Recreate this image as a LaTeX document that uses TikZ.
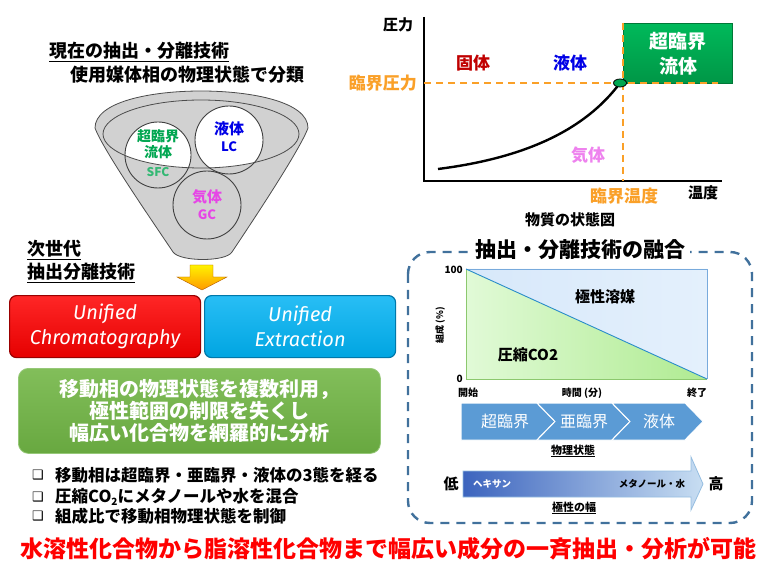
\documentclass[tikz,border=0pt]{standalone}
\usepackage{fontspec}
\setmainfont{Noto Sans CJK JP}
\newfontfamily\dejavu{DejaVu Sans}
\newfontfamily\hand{Fira Sans}
\usetikzlibrary{shapes.geometric}
\definecolor{orC}{RGB}{250,160,40}
\definecolor{scfG}{RGB}{0,166,80}
\definecolor{lcB}{RGB}{0,0,230}
\definecolor{gcM}{RGB}{230,70,230}
\definecolor{solR}{RGB}{192,0,0}
\definecolor{gasV}{RGB}{238,130,238}
\definecolor{panelB}{RGB}{65,113,156}
\definecolor{chevB}{RGB}{91,155,213}
\definecolor{ueTop}{RGB}{40,190,245}
\definecolor{ueBot}{RGB}{0,165,225}
\definecolor{ueDraw}{RGB}{0,120,170}
\definecolor{gbTop}{RGB}{130,190,90}
\definecolor{gbBot}{RGB}{104,168,64}
\definecolor{gbDraw}{RGB}{150,200,120}
\definecolor{scfTop}{RGB}{0,185,90}
\definecolor{scfBot}{RGB}{0,150,70}
\definecolor{scfDraw}{RGB}{0,120,55}
\definecolor{grL}{RGB}{225,250,215}
\definecolor{grR}{RGB}{175,235,145}
\definecolor{blL}{RGB}{215,232,250}
\definecolor{blM}{RGB}{183,216,247}
\definecolor{blR}{RGB}{228,240,252}
\definecolor{grEdge}{RGB}{140,200,110}
\definecolor{blEdge}{RGB}{120,170,220}
\definecolor{diagC}{RGB}{40,140,200}
\definecolor{arL}{RGB}{60,100,190}
\definecolor{arR}{RGB}{200,222,242}
\definecolor{arEdge}{RGB}{150,190,225}
\newcommand\fsz[2]{\fontsize{#1}{#2}\selectfont}
\tikzset{
  txt/.style={inner sep=0pt, align=center},
  funnelline/.style={draw=black!70, line width=0.8pt},
  circ/.style={draw=black!75, line width=0.9pt},
  orlbl/.style={txt, text=orC, font=\fsz{17}{20}\bfseries},
  chevtext/.style={txt, text=white, font=\fsz{16}{19}},
  chev/.style={fill=chevB, draw=white, line width=1pt},
  bigbox/.style={rounded corners=7pt, line width=1.2pt, minimum width=191pt, minimum height=62pt, anchor=north west, text=white, align=center, font=\hand\itshape\fsz{20}{25}},
  bullet/.style={anchor=west, inner sep=0pt, font=\fsz{16.5}{19}\bfseries},
  bmark/.style={txt, font=\dejavu\bfseries\fsz{13}{15}}
}
\begin{document}
\begin{tikzpicture}[x=1pt,y=-1pt]
\useasboundingbox (0,0) rectangle (760,561);
\fill[white] (0,0) rectangle (760,561);

% ---------- top-left titles ----------
\node[txt, font=\fsz{18}{21}\bfseries] (t1) at (139,52) {\underline{現在の抽出・分離技術}};
\node[txt, font=\fsz{18}{21}\bfseries] (t2) at (187,75) {使用媒体相の物理状態で分類};

% ---------- funnel ----------
\draw[funnelline, fill=black!18] (95,128) .. controls (95,102) and (150,91) .. (201,91)
  .. controls (252,91) and (308,102) .. (308,128)
  .. controls (300,150) and (250,225) .. (232,252)
  .. controls (226,262) and (180,262) .. (173,252)
  .. controls (155,225) and (103,150) .. (95,128) -- cycle;
\begin{scope}
  \clip (201,134) ellipse [x radius=98, y radius=34];
  \fill[white] (158,155) circle[radius=33];
  \fill[white] (229,140) circle[radius=34];
\end{scope}
\draw[funnelline] (201,134) ellipse [x radius=98, y radius=34];
\draw[circ] (158,155) circle[radius=33];
\draw[circ] (229,140) circle[radius=34];
\draw[circ] (207,205) circle[radius=34];
\node[txt, text=scfG, font=\fsz{14}{16}\bfseries] (sfc1) at (158,144) {超臨界\\流体};
\node[txt, text=scfG!80, font=\fsz{12}{14}\bfseries] (sfc2) at (158,172) {SFC};
\node[txt, text=lcB, font=\fsz{15}{17}\bfseries] (lc1) at (229,129) {液体};
\node[txt, text=lcB, font=\fsz{13}{15}\bfseries] (lc2) at (229,147) {LC};
\node[txt, text=gcM, font=\fsz{15}{17}\bfseries] (gc1) at (207,197) {気体};
\node[txt, text=gcM, font=\fsz{13}{15}\bfseries] (gc2) at (207,215) {GC};

% ---------- next generation ----------
\node[txt, anchor=west, font=\fsz{18}{21}\bfseries] (n1) at (27,250) {\underline{次世代}};
\node[txt, anchor=west, font=\fsz{18}{21}\bfseries] (n2) at (27,273) {\underline{抽出分離技術}};
\shade[top color=yellow!90!orange, bottom color=orange!80!yellow, draw=orange!70!black, line width=0.4pt]
  (190,265) -- (213,265) -- (213,277) -- (227,277) -- (202,290) -- (177,277) -- (190,277) -- cycle;

\node[bigbox, top color=red!85!white, bottom color=red!90!black, draw=red!60!black] (uc) at (9,295) {Unified\\Chromatography};
\node[bigbox, top color=ueTop, bottom color=ueBot, draw=ueDraw] (ue) at (204,295) {Unified\\Extraction};

\node[rounded corners=10pt, minimum width=362pt, minimum height=85pt, anchor=north west,
  top color=gbTop, bottom color=gbBot, draw=gbDraw, line width=0.8pt,
  text=white, align=center, font=\fsz{20}{22}\bfseries] (gb) at (18,368)
  {移動相の物理状態を複数利用，\\極性範囲の制限を失くし\\幅広い化合物を網羅的に分析};

\node[bmark] (b1m) at (38,475) {❑};
\node[bmark] (b2m) at (38,497) {❑};
\node[bmark] (b3m) at (38,516) {❑};
\node[bullet] (b1) at (55,475) {移動相は超臨界・亜臨界・液体の3態を経る};
\node[bullet] (b2) at (55,497) {圧縮CO\raisebox{-0.35ex}{\fsz{10}{12}2}にメタノールや水を混合};
\node[bullet] (b3) at (55,516) {組成比で移動相物理状態を制御};

\node[txt, text=red, font=\fsz{23}{26}\bfseries] (bottom) at (388,549) {水溶性化合物から脂溶性化合物まで幅広い成分の一斉抽出・分析が可能};

% ---------- phase diagram ----------
\coordinate (ytop) at (424,17);
\coordinate (org) at (424,181);
\coordinate (xend) at (722,181);
\draw[line width=2.6pt] (ytop) -- (org) -- (xend);
\node[txt, font=\fsz{15}{17}\bfseries] (p) at (398,25) {圧力};
\node[txt, font=\fsz{15}{17}\bfseries] (tt) at (703,193) {温度};
\node[txt, font=\fsz{15}{17}\bfseries] (cap) at (570,220) {物質の状態図};
\node[anchor=north west, minimum width=109pt, minimum height=60pt, inner sep=0pt,
  top color=scfTop, bottom color=scfBot, draw=scfDraw, line width=1.2pt,
  text=white, align=center, font=\fsz{19}{25}\bfseries] (scf) at (623,23) {超臨界\\流体};
\coordinate (cp) at (620,83);
\coordinate (hl) at (424,83);
\coordinate (hr) at (718,83);
\coordinate (vt) at (623,23);
\coordinate (vb) at (623,181);
\draw[orC, line width=1.6pt, dash pattern=on 7pt off 5pt] (hl) -- (hr);
\draw[orC, line width=1.6pt, dash pattern=on 7pt off 5pt] (vt) -- (vb);
\coordinate (cs) at (438,169);
\draw[line width=2.4pt] (cs) .. controls (525,158) and (585,130) .. (cp);
\node[ellipse, draw=black, fill=scfG, line width=0.8pt, minimum width=13pt, minimum height=8pt, inner sep=0pt] (cpn) at (cp) {};
\node[orlbl, anchor=east] (cpr) at (417,83) {臨界圧力};
\node[orlbl] (ctp) at (624,196) {臨界温度};
\node[txt, text=solR, font=\fsz{17}{20}\bfseries] (sol) at (473,63) {固体};
\node[txt, text=lcB, font=\fsz{17}{20}\bfseries] (liq) at (570,63) {液体};
\node[txt, text=gasV, font=\fsz{17}{20}\bfseries] (gas) at (588,155) {気体};

% ---------- right panel ----------
\draw[panelB, line width=2.4pt, dash pattern=on 9pt off 7pt, rounded corners=22pt] (408,252) rectangle (752,523);
\node[fill=white, inner xsep=5pt, inner ysep=2pt, font=\fsz{21}{24}\bfseries] (ttl) at (580,250) {抽出・分離技術の融合};

\shade[left color=grL, right color=grR] (466,269) -- (466,379) -- (707,379) -- cycle;
\shade[left color=blL, middle color=blM, right color=blR] (466,269) -- (707,269) -- (707,379) -- cycle;
\draw[grEdge, line width=0.8pt] (466,269) -- (466,379) -- (707,379);
\draw[blEdge, line width=0.8pt] (466,269) -- (707,269) -- (707,379);
\draw[diagC, line width=0.9pt] (466,269) -- (707,379);
\node[txt, anchor=east, font=\fsz{10}{12}\bfseries] (y100) at (463,270) {100};
\node[txt, anchor=east, font=\fsz{10}{12}\bfseries] (y0) at (463,379) {0};
\node[txt, rotate=90, font=\fsz{9}{11}\bfseries] (ylab) at (440,325) {組成 (\%)};
\node[txt, font=\fsz{15}{17}\bfseries] (pol) at (605,297) {極性溶媒};
\node[txt, font=\fsz{15}{17}\bfseries] (co2) at (528,355) {圧縮CO2};
\node[txt, font=\fsz{10}{12}\bfseries] (xs) at (468,393) {開始};
\node[txt, font=\fsz{10}{12}\bfseries] (xm) at (582,393) {時間 (分)};
\node[txt, font=\fsz{10}{12}\bfseries] (xe) at (697,393) {終了};

\draw[chev] (461,403) -- (537,403) -- (555,421.5) -- (537,440) -- (461,440) -- cycle;
\draw[chev] (537,403) -- (612,403) -- (630,421.5) -- (612,440) -- (537,440) -- (555,421.5) -- cycle;
\draw[chev] (612,403) -- (685,403) -- (703,421.5) -- (685,440) -- (612,440) -- (630,421.5) -- cycle;
\node[chevtext] (c1) at (505,421) {超臨界};
\node[chevtext] (c2) at (584,421) {亜臨界};
\node[chevtext] (c3) at (659,421) {液体};
\node[txt, font=\fsz{11}{13}\bfseries] (phys) at (573,451) {\underline{物理状態}};

\shade[left color=arL, right color=arR, draw=arEdge, line width=0.8pt]
  (463,471) -- (691,471) -- (691,457) -- (703,484) -- (691,510) -- (691,497) -- (463,497) -- cycle;
\node[txt, font=\fsz{15}{17}\bfseries] (lo) at (451,484) {低};
\node[txt, font=\fsz{15}{17}\bfseries] (hi) at (716,484) {高};
\node[txt, text=white, font=\fsz{9.5}{11}\bfseries] (hex) at (492,484) {ヘキサン};
\node[txt, font=\fsz{9.5}{11}\bfseries] (meoh) at (652,484) {メタノール・水};
\node[txt, font=\fsz{11}{13}\bfseries] (pw) at (574,508) {\underline{極性の幅}};
\end{tikzpicture}
\end{document}
